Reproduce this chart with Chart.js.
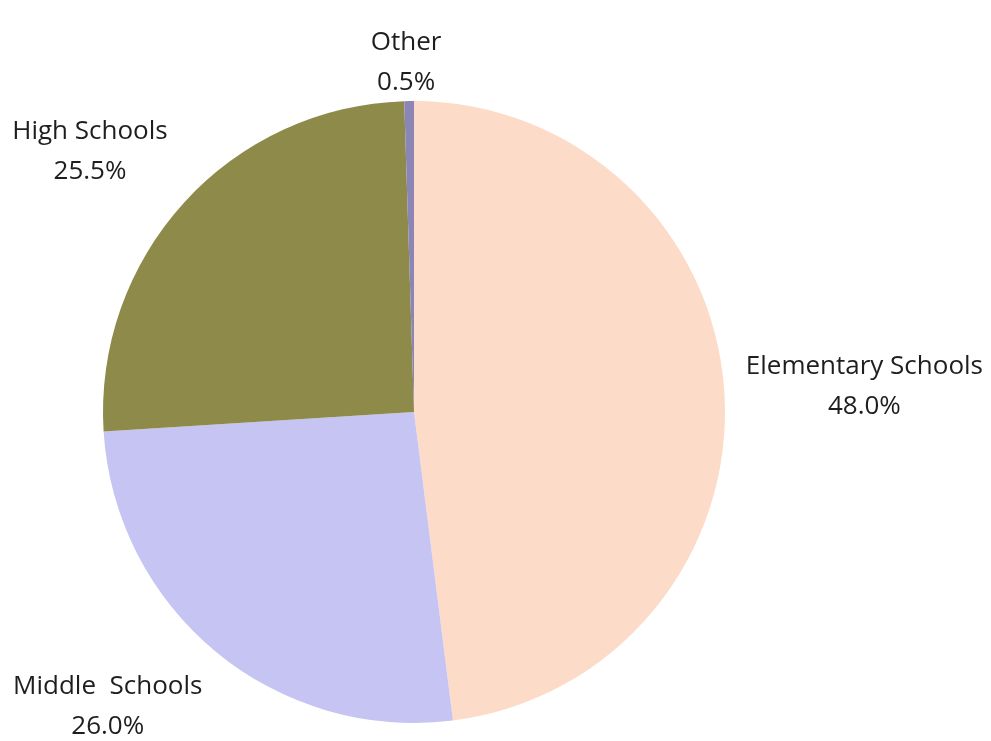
<!DOCTYPE html>
<html lang="en">
<head>
    <meta charset="UTF-8">
    <title>Schools by Level</title>
    <script src="https://cdn.jsdelivr.net/npm/chart.js"></script>
    <style>
        html, body { margin: 0; padding: 0; background: #fff; }
        #wrap { width: 991px; height: 741px; }
    </style>
</head>
<body>
    <div id="wrap"><canvas id="schoolChart"></canvas></div>

    <script>
        // share of schools by level (percent)
        const categories = ['Elementary Schools', 'Middle  Schools', 'High Schools', 'Other'];
        const shares = [48.0, 26.0, 25.5, 0.5];
        const sliceColors = ['#fcdcc8', '#c5c4f3', '#8e8a4a', '#8b86b6'];

        // where each label sits relative to the outer edge at the slice's middle angle
        const labelShift = [[140, -6], [-108, 55], [-94, -51], [-3, -38]];

        // draws "name / value%" labels outside the pie
        const outsideLabels = {
            id: 'outsideLabels',
            afterDatasetsDraw(chart) {
                const ctx = chart.ctx;
                const meta = chart.getDatasetMeta(0);
                ctx.save();
                ctx.font = '26px "Open Sans", sans-serif';
                ctx.fillStyle = '#1e1e1e';
                ctx.textAlign = 'center';
                ctx.textBaseline = 'middle';
                meta.data.forEach((arc, i) => {
                    const mid = (arc.startAngle + arc.endAngle) / 2;
                    const ex = arc.x + Math.cos(mid) * arc.outerRadius;
                    const ey = arc.y + Math.sin(mid) * arc.outerRadius;
                    const x = ex + labelShift[i][0];
                    const y = ey + labelShift[i][1];
                    ctx.fillText(categories[i], x, y - 20);
                    ctx.fillText(shares[i].toFixed(1) + '%', x, y + 20);
                });
                ctx.restore();
            }
        };

        new Chart(document.getElementById('schoolChart'), {
            type: 'pie',
            data: {
                labels: categories,
                datasets: [{
                    data: shares,
                    backgroundColor: sliceColors,
                    borderWidth: 0
                }]
            },
            options: {
                responsive: true,
                maintainAspectRatio: false,
                animation: false,
                layout: { padding: { left: 103, right: 266, top: 101, bottom: 18 } },
                plugins: {
                    legend: { display: false },
                    tooltip: { enabled: false }
                }
            },
            plugins: [outsideLabels]
        });
    </script>
</body>
</html>
